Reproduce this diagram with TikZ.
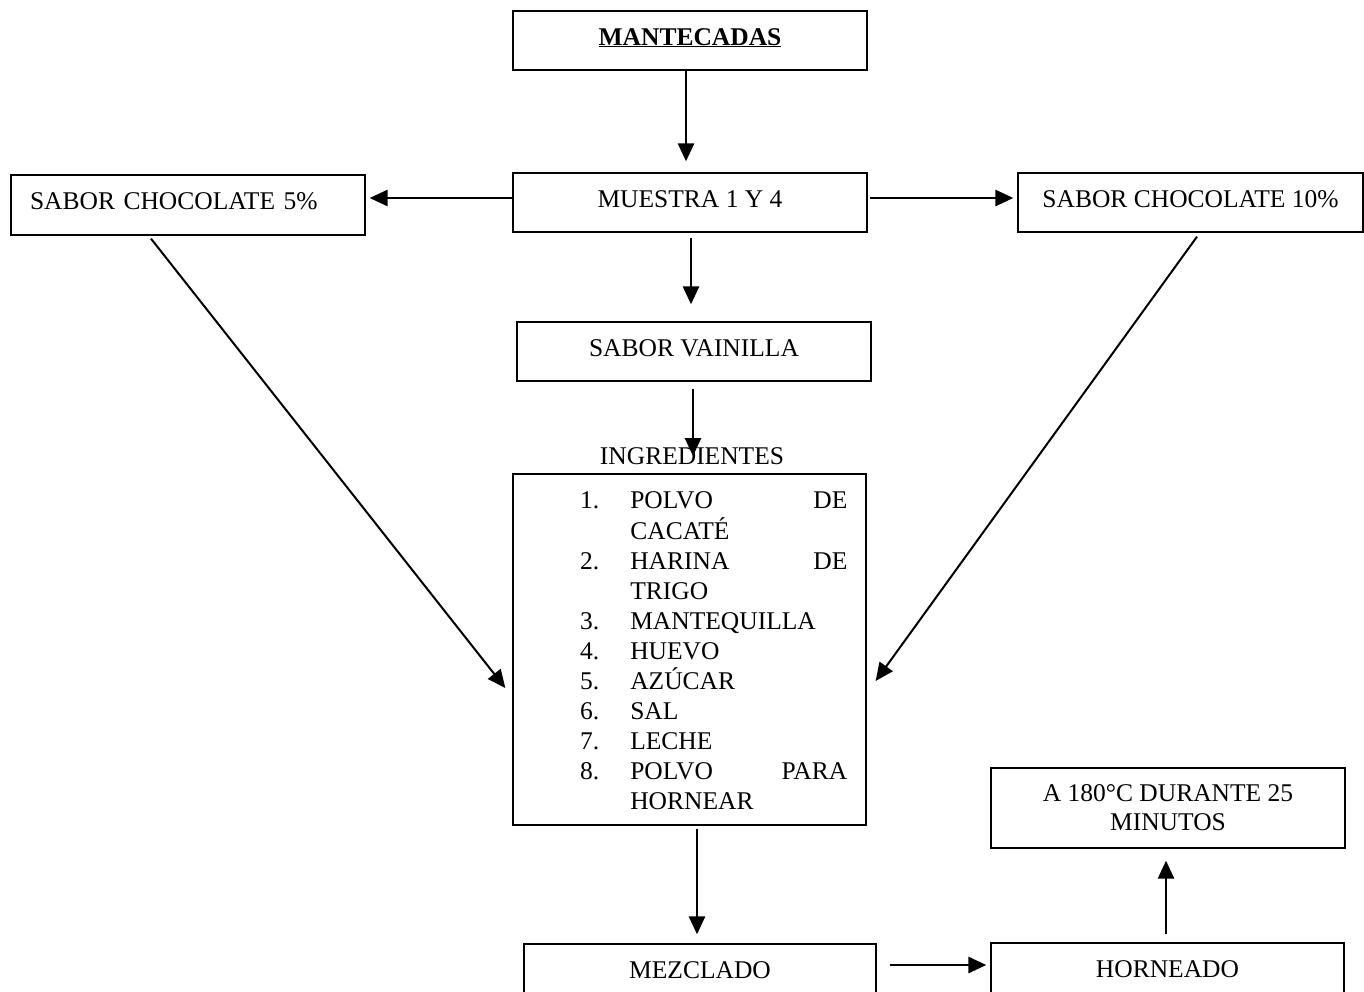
\documentclass[tikz,border=0pt]{standalone}
\usepackage{fontspec}
\setmainfont{Liberation Serif}
\usetikzlibrary{arrows.meta,calc}
\newcommand\flowfont{\fontsize{25.5}{30}\selectfont}
\begin{document}
\begin{tikzpicture}[x=1pt,y=-1pt,
  box/.style={draw, line width=1.3pt, minimum width=354pt, minimum height=60pt,
    inner sep=0pt, font=\flowfont},
  lbl/.style={text height=17pt, text depth=8pt},
  arr/.style={line width=2.8pt, -{Triangle[length=18pt,width=16pt]}},
  diag/.style={arr, line width=2pt}]
\useasboundingbox (0,0) rectangle (1364,991);

% boxes
\node[box, lbl, minimum height=59pt] (mant) at (690,40.5) {\textbf{\underline{MANTECADAS}}};
\node[box, lbl, minimum height=59pt] (mues) at (690,202.5) {MUESTRA 1 Y 4};
\node[box, lbl, text width=316pt, align=left, inner xsep=19pt] (sc5) at (188,205) {SABOR CHOCOLATE 5\%};
\node[box, lbl, minimum width=345pt, minimum height=59pt] (sc10) at (1190.5,202.5) {SABOR CHOCOLATE 10\%};
\node[box, lbl, minimum height=59pt] (vain) at (694,351.5) {SABOR VAINILLA};
\node[font=\flowfont, inner sep=0pt, lbl] (inglabel) at (692,460) {INGREDIENTES};
\node[box, minimum width=353pt, minimum height=351pt] (ingr) at (689.5,649.5) {};
\node[anchor=north west, inner sep=0pt, font=\flowfont] (list) at (580,487) {%
  \begin{tabular}{@{}r@{\hspace{31pt}}l@{}}
  1. & \makebox[217pt][s]{POLVO\hfill DE}\\
     & CACATÉ\\
  2. & \makebox[217pt][s]{HARINA\hfill DE}\\
     & TRIGO\\
  3. & MANTEQUILLA\\
  4. & HUEVO\\
  5. & AZÚCAR\\
  6. & SAL\\
  7. & LECHE\\
  8. & \makebox[217pt][s]{POLVO\hfill PARA}\\
     & HORNEAR
  \end{tabular}};
\node[box, minimum height=80pt, align=center, font=\fontsize{25.5}{29}\selectfont] (temp) at (1168,808)
  {A 180°C DURANTE 25\\MINUTOS};
\node[box, lbl, minimum width=352pt] (mezc) at (700,974) {MEZCLADO};
\node[box, lbl, minimum width=353pt] (horn) at (1167.5,973) {HORNEADO};

% connectors
\draw[arr] ($(mant.south)+(-4,0)$) -- ($(mues.north)+(-4,-11)$);
\draw[arr] ($(mues.west)+(0,-4.5)$) -- ($(sc5.east |- mues.west)+(4,-4.5)$);
\draw[arr] ($(mues.east)+(2,-4.5)$) -- ($(sc10.west |- mues.east)+(-4,-4.5)$);
\draw[arr] ($(mues.south)+(1,5)$) -- ($(vain.north)+(-3,-17)$);
\draw[arr] ($(vain.south)+(-1,7)$) -- ($(inglabel.center -| vain.south)+(-1,-4)$);
\draw[diag] ($(sc5.south)+(-37,3)$) -- ($(ingr.west)+(-7,38.5)$);
\draw[diag] ($(sc10.south)+(6.5,4)$) -- ($(ingr.east)+(9,31.5)$);
\draw[arr] ($(ingr.south)+(7.5,3)$) -- ($(mezc.north)+(-3,-9)$);
\draw[arr] ($(mezc.east)+(13,-9)$) -- ($(horn.west)+(-4,-8)$);
\draw[arr] ($(horn.north)+(-1.5,-8)$) -- ($(temp.south)+(-2,12)$);
\end{tikzpicture}
\end{document}
